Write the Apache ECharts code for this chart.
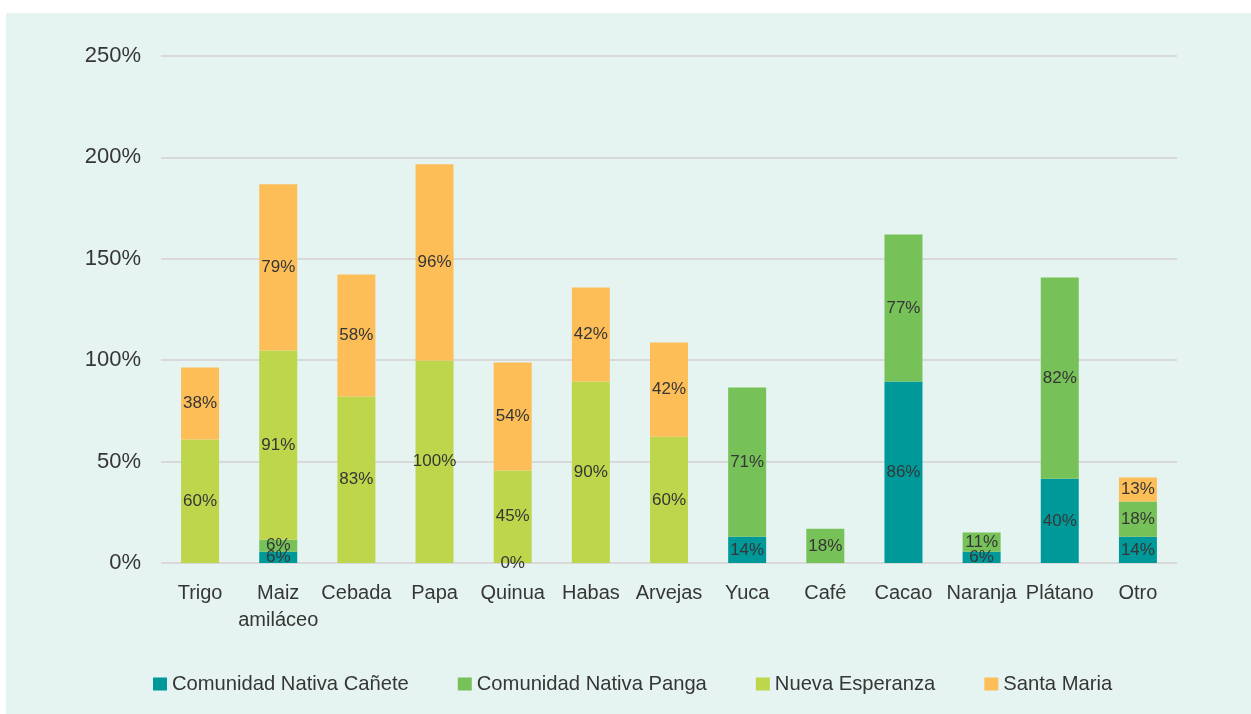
<!DOCTYPE html>
<html>
<head>
<meta charset="utf-8">
<script src="https://cdn.jsdelivr.net/npm/echarts@6/dist/echarts.min.js"></script>
<style>
  html, body { margin: 0; padding: 0; background: #ffffff; }
  #chart { position: absolute; left: 6px; top: 13px; width: 1245px; height: 701px; background: #e6f4f1; }
</style>
</head>
<body>
<div id="chart"></div>
<script>
// cultivos
var categories = ['Trigo', 'Maiz\namiláceo', 'Cebada', 'Papa', 'Quinua', 'Habas', 'Arvejas',
  'Yuca', 'Café', 'Cacao', 'Naranja', 'Plátano', 'Otro']

// altura de cada tramo (null = sin dato)
var canete = [null, 5.6, null, null, null, null, null, 13.0, null, 89.5, 5.6, 41.6, 13.0]
var panga = [null, 5.9, null, null, 0, null, null, 73.6, 16.9, 72.5, 9.4, 99.2, 17.3]
var nuevaEsperanza = [60.9, 93.3, 82.1, 99.9, 45.6, 89.5, 62.3, null, null, null, null, null, null]
var santaMaria = [35.5, 81.9, 60.2, 96.7, 53.3, 46.4, 46.4, null, null, null, null, null, 11.8]

// etiquetas que muestra el grafico
var caneteLbl = [null, 6, null, null, null, null, null, 14, null, 86, 6, 40, 14]
var pangaLbl = [null, 6, null, null, 0, null, null, 71, 18, 77, 11, 82, 18]
var nuevaEsperanzaLbl = [60, 91, 83, 100, 45, 90, 60, null, null, null, null, null, null]
var santaMariaLbl = [38, 79, 58, 96, 54, 42, 42, null, null, null, null, null, 13]

var yTicks = [0, 50, 100, 150, 200, 250]

var textColor = '#363636'
var fontName = 'Liberation Sans'

function mkSeries(name, data, labels, color) {
  return {
    name: name,
    type: 'bar',
    stack: 'total',
    barWidth: 38,
    data: data,
    itemStyle: { color: color },
    label: {
      show: true,
      position: 'inside',
      formatter: function (p) {
        return labels[p.dataIndex] + '%'
      },
      color: textColor,
      fontFamily: fontName,
      fontSize: 17
    }
  }
}

var chart = echarts.init(document.getElementById('chart'))
chart.setOption({
  animation: false,
  textStyle: { fontFamily: fontName },
  grid: {
    left: 155,
    right: 74,
    top: 43,
    bottom: 151,
    containLabel: false
  },
  legend: {
    left: 147,
    top: 661,
    padding: 0,
    itemWidth: 14,
    itemHeight: 13,
    itemGap: 49,
    icon: 'rect',
    textStyle: { color: textColor, fontSize: 20.2, fontFamily: fontName },
    data: ['Comunidad Nativa Cañete', 'Comunidad Nativa Panga', 'Nueva Esperanza', 'Santa Maria']
  },
  xAxis: {
    type: 'category',
    data: categories,
    axisLine: { show: false },
    axisTick: { show: false },
    axisLabel: {
      color: textColor,
      fontSize: 20,
      fontFamily: fontName,
      lineHeight: 27,
      margin: 17,
      interval: 0
    }
  },
  yAxis: {
    type: 'value',
    min: yTicks[0],
    max: yTicks[yTicks.length - 1],
    interval: 50,
    axisLine: { show: false },
    axisTick: { show: false },
    splitLine: { lineStyle: { color: '#d9d9d9', width: 2 } },
    axisLabel: {
      color: textColor,
      fontSize: 22,
      fontFamily: fontName,
      margin: 20,
      formatter: '{value}%'
    }
  },
  series: [
    mkSeries('Comunidad Nativa Cañete', canete, caneteLbl, '#00999a'),
    mkSeries('Comunidad Nativa Panga', panga, pangaLbl, '#77c159'),
    mkSeries('Nueva Esperanza', nuevaEsperanza, nuevaEsperanzaLbl, '#bdd64b'),
    mkSeries('Santa Maria', santaMaria, santaMariaLbl, '#fdbe58')
  ]
})
</script>
</body>
</html>
